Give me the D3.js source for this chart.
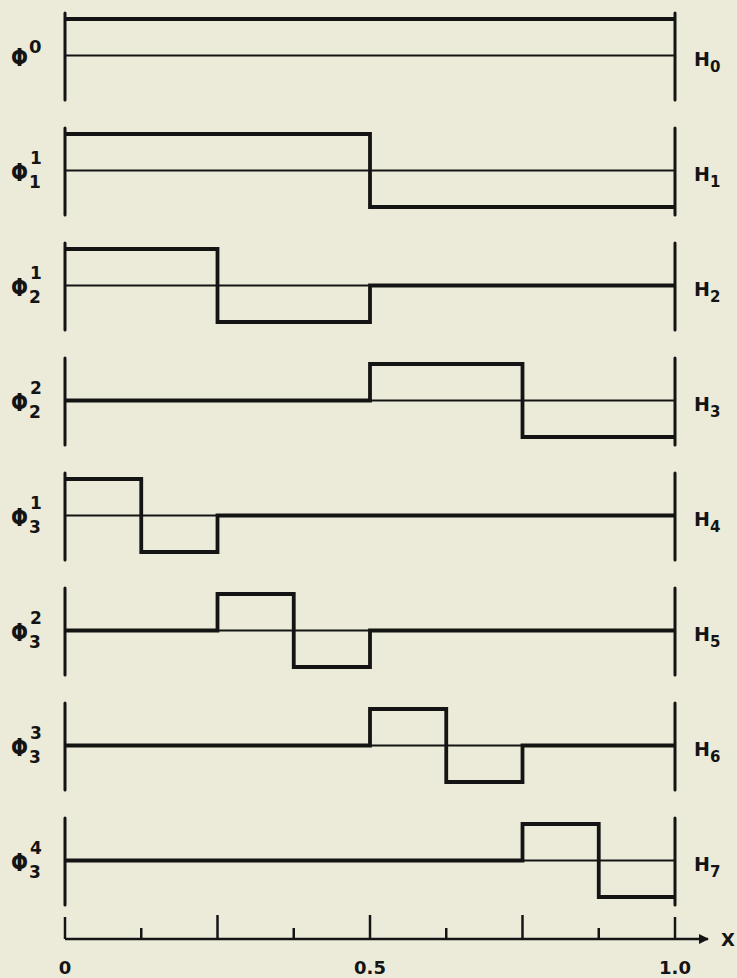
<!DOCTYPE html>
<html>
<head>
<meta charset="utf-8">
<script src="https://cdn.jsdelivr.net/npm/d3@7"></script>
<style>
	html, body { margin: 0; padding: 0; background: #ecebd9; }
	svg { display: block; }
	text { font-family: "DejaVu Sans", sans-serif; fill: #141414; font-weight: bold; }
</style>
</head>
<body>
<div id="chart"></div>
<script>
"use strict";

// step values on the eighths of [0, 1]
var stepEdges = [0, 0.125, 0.25, 0.375, 0.5, 0.625, 0.75, 0.875, 1.0];
var haarNames = ["H0", "H1", "H2", "H3", "H4", "H5", "H6", "H7"];
var phiSup = ["0", "1", "1", "2", "1", "2", "3", "4"];
var phiSub = ["", "1", "2", "2", "3", "3", "3", "3"];
var hSub = ["0", "1", "2", "3", "4", "5", "6", "7"];
var haarValues = [
	[1, 1, 1, 1, 1, 1, 1, 1],
	[1, 1, 1, 1, -1, -1, -1, -1],
	[1, 1, -1, -1, 0, 0, 0, 0],
	[0, 0, 0, 0, 1, 1, -1, -1],
	[1, -1, 0, 0, 0, 0, 0, 0],
	[0, 0, 1, -1, 0, 0, 0, 0],
	[0, 0, 0, 0, 1, -1, 0, 0],
	[0, 0, 0, 0, 0, 0, 1, -1]
];
var axisTicks = [0, 0.125, 0.25, 0.375, 0.5, 0.625, 0.75, 0.875, 1.0];
var axisLabels = [0, 0.5, 1.0];

var width = 737, height = 978;
var ink = "#141414";

var svg = d3.select("#chart").append("svg")
	.attr("width", width)
	.attr("height", height);

var scaleX = d3.scaleLinear().domain([0, 1]).range([65, 675]);
var scaleRow = d3.scaleLinear().domain([0, 7]).range([56, 861]);
var scaleAmp = d3.scaleLinear().domain([-1, 1]).range([36, -37]);

var stepLine = d3.line()
	.x(function(d) { return scaleX(d.x); })
	.y(function(d) { return scaleAmp(d.v); })
	.curve(d3.curveStepAfter);

haarValues.forEach(function(vals, i) {
	var g = svg.append("g")
		.attr("class", "panel")
		.attr("transform", "translate(0," + scaleRow(i) + ")");

	// end bars
	[0, 1].forEach(function(e) {
		g.append("line")
			.attr("x1", scaleX(e)).attr("x2", scaleX(e))
			.attr("y1", -43).attr("y2", 44)
			.attr("stroke", ink)
			.attr("stroke-width", 3)
			.attr("stroke-linecap", "round");
	});

	// zero line
	g.append("line")
		.attr("x1", scaleX(0)).attr("x2", scaleX(1))
		.attr("y1", scaleAmp(0)).attr("y2", scaleAmp(0))
		.attr("stroke", ink)
		.attr("stroke-width", 1.8);

	var pts = vals.map(function(v, k) { return {x: stepEdges[k], v: v}; });
	pts.push({x: 1, v: vals[vals.length - 1]});
	g.append("path")
		.attr("d", stepLine(pts))
		.attr("fill", "none")
		.attr("stroke", ink)
		.attr("stroke-width", 3.8)
		.attr("stroke-linejoin", "miter");

	// left label (narrow phi)
	g.append("text")
		.attr("transform", "translate(11,10) scale(0.8,1)")
		.style("font-size", "25px")
		.text("\u03A6");
	if (phiSub[i] === "") {
		g.append("text")
			.attr("x", 29).attr("y", -3)
			.style("font-size", "18px")
			.text(phiSup[i]);
	} else {
		g.append("text")
			.attr("x", 30).attr("y", -7)
			.style("font-size", "17px")
			.text(phiSup[i]);
		g.append("text")
			.attr("x", 29).attr("y", 17)
			.style("font-size", "17px")
			.text(phiSub[i]);
	}

	// right label
	var rl = g.append("text")
		.attr("x", 694)
		.attr("y", 10)
		.style("font-size", "19px");
	rl.append("tspan").text("H");
	rl.append("tspan")
		.attr("dy", 6)
		.style("font-size", "15px")
		.text(hSub[i]);
});

// bottom x axis
var axisY = 939;
svg.append("defs").append("marker")
	.attr("id", "arrow")
	.attr("viewBox", "0 0 10 10")
	.attr("refX", 9).attr("refY", 5)
	.attr("markerWidth", 4).attr("markerHeight", 4)
	.attr("markerUnits", "strokeWidth")
	.attr("orient", "auto")
	.append("path")
	.attr("d", "M0,0L10,5L0,10Z")
	.attr("fill", ink);

svg.append("line")
	.attr("x1", scaleX(0)).attr("x2", 708)
	.attr("y1", axisY).attr("y2", axisY)
	.attr("stroke", ink)
	.attr("stroke-width", 2.5)
	.attr("marker-end", "url(#arrow)");

svg.selectAll(".xtick")
	.data(axisTicks)
	.enter().append("line")
	.attr("class", "xtick")
	.attr("x1", function(d) { return scaleX(d); })
	.attr("x2", function(d) { return scaleX(d); })
	.attr("y1", function(d) {
		if (d === 0 || d === 1) return axisY - 22;
		return (d * 4) % 1 === 0 ? axisY - 24 : axisY - 11;
	})
	.attr("y2", axisY)
	.attr("stroke", ink)
	.attr("stroke-width", 2.5);

svg.selectAll(".xlabel")
	.data(axisLabels)
	.enter().append("text")
	.attr("class", "xlabel")
	.attr("x", function(d) { return scaleX(d); })
	.attr("y", 974)
	.attr("text-anchor", "middle")
	.style("font-size", "18px")
	.text(function(d) { return d === 0 ? "0" : d.toFixed(1); });

svg.append("text")
	.attr("x", 721)
	.attr("y", 946)
	.style("font-size", "18px")
	.text("X");
</script>
</body>
</html>
